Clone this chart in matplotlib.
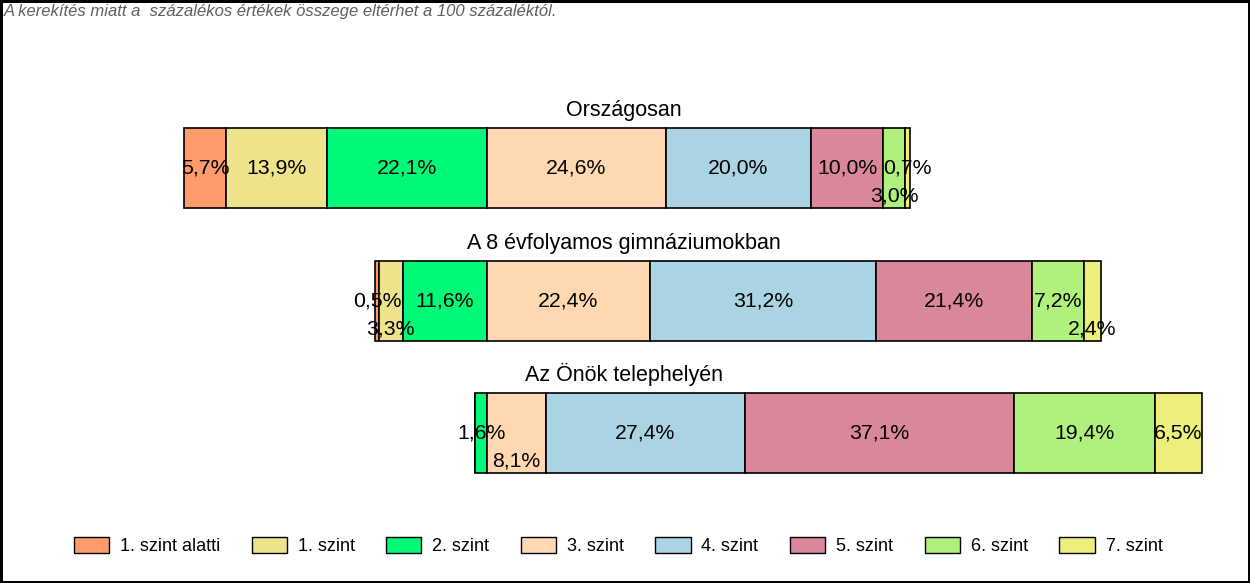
import matplotlib
matplotlib.use("Agg")
import matplotlib.pyplot as plt
import matplotlib.transforms as mtransforms
from matplotlib.patches import Patch

# ---- data ----
groups = ["Országosan", "A 8 évfolyamos gimnáziumokban", "Az Önök telephelyén"]
levels = ["1. szint alatti", "1. szint", "2. szint", "3. szint",
          "4. szint", "5. szint", "6. szint", "7. szint"]
orszagos = [5.7, 13.9, 22.1, 24.6, 20.0, 10.0, 3.0, 0.7]
gimn8 = [0.5, 3.3, 11.6, 22.4, 31.2, 21.4, 7.2, 2.4]
telephely = [0.0, 0.0, 1.6, 8.1, 27.4, 37.1, 19.4, 6.5]
series = [orszagos, gimn8, telephely]
colors = ["#FF9A6C", "#EEE28A", "#00FA78", "#FFD8B2",
          "#AAD4E4", "#DA8899", "#B0F07C", "#EEEE7C"]
note = "A kerekítés miatt a  százalékos értékek összege eltérhet a 100 százaléktól."

W, H = 1250, 583
plt.rcParams['font.family'] = ['Liberation Sans', 'DejaVu Sans']
fig = plt.figure(figsize=(W / 100, H / 100), dpi=100)
fig.patch.set_edgecolor("black")
fig.patch.set_linewidth(2.5)

ax = fig.add_axes([0, 0, 1, 1])
ax.set_axis_off()
pxpp = 7.26          # pixels per percent
anchor = 487         # pixel where level 2/3 boundary is aligned
ax.set_xlim(-anchor / pxpp, (W - anchor) / pxpp)
spacing = 132.7
top0 = 168
ax.set_ylim((H - top0) / spacing, -top0 / spacing)
bh = 80 / spacing
low_off = 28 / spacing

for i, vals in enumerate(series):
    left = -sum(vals[:3])
    lefts = []
    acc = left
    for v in vals:
        lefts.append(acc)
        acc += v
    ax.barh([i] * len(vals), vals, left=lefts, height=bh, color=colors,
            edgecolor="black", linewidth=1.2)
    last_mid = None
    for v, l in zip(vals, lefts):
        if v <= 0:
            continue
        c = l + v / 2
        y = i
        if last_mid is not None and c - last_mid < 7.0:
            y = i + low_off
        else:
            last_mid = c
        ax.text(c, y, f"{v:.1f}".replace(".", ",") + "%", ha="center",
                va="center", fontsize=15.3, color="black")
    trans = mtransforms.blended_transform_factory(fig.transFigure, ax.transData)
    ax.text(624 / W, i - bh / 2 - 12 / spacing, groups[i], transform=trans,
            ha="center", va="baseline", fontsize=15.5, color="black")

fig.text(4 / W, 1 - 4 / H, note, ha="left", va="top", fontsize=12,
         style="italic", color="#606060")

handles = [Patch(facecolor=c, edgecolor="black", linewidth=1.0) for c in colors]
fig.legend(handles, levels, loc="center", ncol=8, frameon=False,
           bbox_to_anchor=(618 / W, 1 - 546 / H), fontsize=13,
           handlelength=1.95, handleheight=1.0, handletextpad=0.6,
           columnspacing=1.75)

fig.savefig("out.png", dpi=100, edgecolor=fig.get_edgecolor())
